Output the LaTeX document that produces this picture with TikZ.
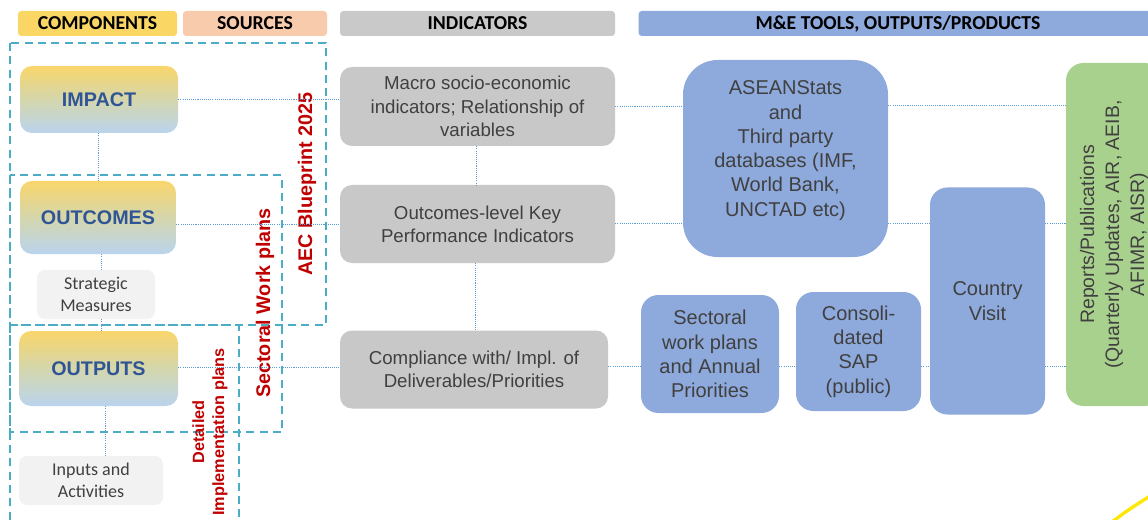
\documentclass[tikz,border=0pt]{standalone}
\usepackage{fontspec}
\setmainfont{Liberation Sans}
\newfontfamily\carlito{Carlito}
\definecolor{hyellow}{RGB}{250,214,101}
\definecolor{hpeach}{RGB}{248,203,173}
\definecolor{hgray}{RGB}{201,201,201}
\definecolor{hblue}{RGB}{142,169,219}
\definecolor{cyel}{RGB}{249,214,107}
\definecolor{cmid}{RGB}{212,214,172}
\definecolor{cblu}{RGB}{186,212,238}
\definecolor{cblue}{RGB}{47,85,151}
\definecolor{tgray}{RGB}{64,64,64}
\definecolor{boxgray}{RGB}{200,200,200}
\definecolor{lgray}{RGB}{242,242,242}
\definecolor{tblue}{RGB}{142,169,219}
\definecolor{tgreen}{RGB}{169,209,142}
\definecolor{dred}{RGB}{192,0,0}
\definecolor{teal}{RGB}{75,172,198}
\definecolor{conn}{RGB}{91,155,213}
\begin{document}
\begin{tikzpicture}[x=0.75pt,y=-0.75pt,
  hdr/.style={rounded corners=2.5pt, minimum height=18.75pt, inner sep=0pt, text=black, font=\carlito\fontsize{14.8}{17}\selectfont\bfseries},
  comp/.style={rounded corners=9pt, top color=cyel, bottom color=cblu, middle color=cmid, text=cblue, inner sep=0pt, font=\fontsize{14.8}{17}\selectfont\bfseries},
  sub/.style={rounded corners=6pt, fill=lgray, text=tgray, inner sep=0pt, align=center, font=\carlito\fontsize{13.5}{16.5}\selectfont},
  ind/.style={rounded corners=9pt, fill=boxgray, text=tgray, inner sep=0pt, align=center, font=\fontsize{14}{17.5}\selectfont},
  tool/.style={rounded corners=13pt, fill=tblue, text=tgray, inner sep=0pt, align=center, font=\fontsize{15}{18.2}\selectfont},
  frame/.style={draw=teal, line width=1.4pt, dash pattern=on 6pt off 4pt},
  redlbl/.style={text=dred, rotate=90, align=center, inner sep=0pt},
  link/.style={draw=conn, line width=0.6pt, dash pattern=on 0.8pt off 0.8pt}
]
\clip (0,0) rectangle (1148,520);
\useasboundingbox (0,0) rectangle (1148,520);

% headers
\node[hdr, fill=hyellow, minimum width=119.25pt] (h1) at (97.5,23.5) {COMPONENTS};
\node[hdr, fill=hpeach, minimum width=108pt] (h2) at (255,23.5) {SOURCES};
\node[hdr, fill=hgray, minimum width=206.25pt] (h3) at (477.5,23.5) {INDICATORS};
\node[hdr, fill=hblue, minimum width=389.25pt] (h4) at (898,23.5) {M\&E TOOLS, OUTPUTS/PRODUCTS};

% dashed frames
\draw[frame] (10,43) rectangle (326,325);
\draw[frame] (10,175) rectangle (282,432);
\draw[frame] (10,325) rectangle (239,540);

% red labels
\node[redlbl, font=\fontsize{14.8}{17}\selectfont\bfseries] (aec) at (307,184) {AEC Blueprint 2025};
\node[redlbl, font=\fontsize{14.8}{17}\selectfont\bfseries] (swp) at (265,303) {Sectoral Work plans};
\node[redlbl, font=\fontsize{12.2}{15}\selectfont\bfseries] (dip) at (210,432) {Detailed\\Implementation plans};

% components
\node[comp, minimum width=118.5pt, minimum height=50.25pt] (impact) at (99,99.5) {IMPACT};
\node[comp, minimum width=117pt, minimum height=54.75pt] (outcomes) at (98,217.5) {OUTCOMES};
\node[sub, minimum width=88.5pt, minimum height=36.75pt] (strat) at (96,294.5) {Strategic\\Measures};
\node[comp, minimum width=119.25pt, minimum height=56.25pt] (outputs) at (98.5,368.5) {OUTPUTS};
\node[sub, minimum width=108pt, minimum height=36.75pt] (inputs) at (91,480.5) {Inputs and\\Activities};

% indicators
\node[ind, minimum width=206.25pt, minimum height=59.25pt] (macro) at (477.5,106.5) {Macro socio-economic\\indicators; Relationship of\\variables};
\node[ind, minimum width=206.25pt, minimum height=58.5pt] (kpi) at (477.5,224) {Outcomes-level Key\\Performance Indicators};
\node[ind, minimum width=201pt, minimum height=58.5pt] (comp) at (474,369.5) {Compliance with/ Impl. of\\Deliverables/Priorities};

% tools
\node[tool, rounded corners=26pt, minimum width=153.75pt, minimum height=147.75pt] (asean) at (785.5,158.5) {};
\node[text=tgray, align=center, inner sep=0pt, font=\fontsize{15}{18.2}\selectfont] (aseantext) at ([yshift=6pt]asean.center) {ASEANStats\\and\\Third party\\databases (IMF,\\World Bank,\\UNCTAD etc)};
\node[tool, minimum width=103.5pt, minimum height=88.5pt] (swpl) at (710,354) {Sectoral\\work plans\\and Annual\\Priorities};
\node[tool, minimum width=93.75pt, minimum height=89.25pt] (sap) at (858.5,351.5) {Consoli-\\dated\\SAP\\(public)};
\node[tool, minimum width=86.25pt, minimum height=170.25pt] (cv) at (987.5,301) {Country\\Visit};
\node[rounded corners=13pt, fill=tgreen, text=tgray, rotate=90, align=center, inner sep=0pt, minimum width=257.25pt, minimum height=72pt, font=\fontsize{14.6}{18.75}\selectfont] (rep) at (1114,234.5) {Reports/Publications\\(Quarterly Updates, AIR, AEIB,\\AFIMR, AISR)};

% connectors: row 1
\draw[link] (impact.east) -- (impact.east -| macro.west);
\draw[link] (macro.east) -- (macro.east -| asean.west);
\draw[link] (asean.east |- 0,105) -- (rep.north |- 0,105);
% row 2
\draw[link] (outcomes.east |- 0,224) -- (kpi.west |- 0,224);
\draw[link] (kpi.east |- 0,223) -- (asean.west |- 0,223);
\draw[link] (asean.east |- 0,223) -- (cv.west |- 0,223);
\draw[link] (cv.east |- 0,223) -- (rep.north |- 0,223);
% row 3
\draw[link] (outputs.east |- 0,367) -- (comp.west |- 0,367);
\draw[link] (comp.east |- 0,366) -- (swpl.west |- 0,366);
\draw[link] (swpl.east |- 0,366) -- (sap.west |- 0,366);
\draw[link] (sap.east |- 0,366) -- (cv.west |- 0,366);
\draw[link] (cv.east |- 0,366) -- (rep.north |- 0,366);
% verticals
\draw[link] (impact.south -| 98,0) -- (outcomes.north -| 98,0);
\draw[link] (outcomes.south -| 101,0) -- (strat.north -| 101,0);
\draw[link] (strat.south -| 101,0) -- (outputs.north -| 101,0);
\draw[link] (outputs.south -| 105,0) -- (inputs.north -| 105,0);
\draw[link] (macro.south -| 476,0) -- (kpi.north -| 476,0);
\draw[link] (kpi.south -| 475,0) -- (comp.north -| 475,0);

% yellow swoosh
\draw[yellow!90!orange, line width=2.5pt, line cap=round] (1112,522) .. controls (1128,510) .. (1150,496);
\end{tikzpicture}
\end{document}
